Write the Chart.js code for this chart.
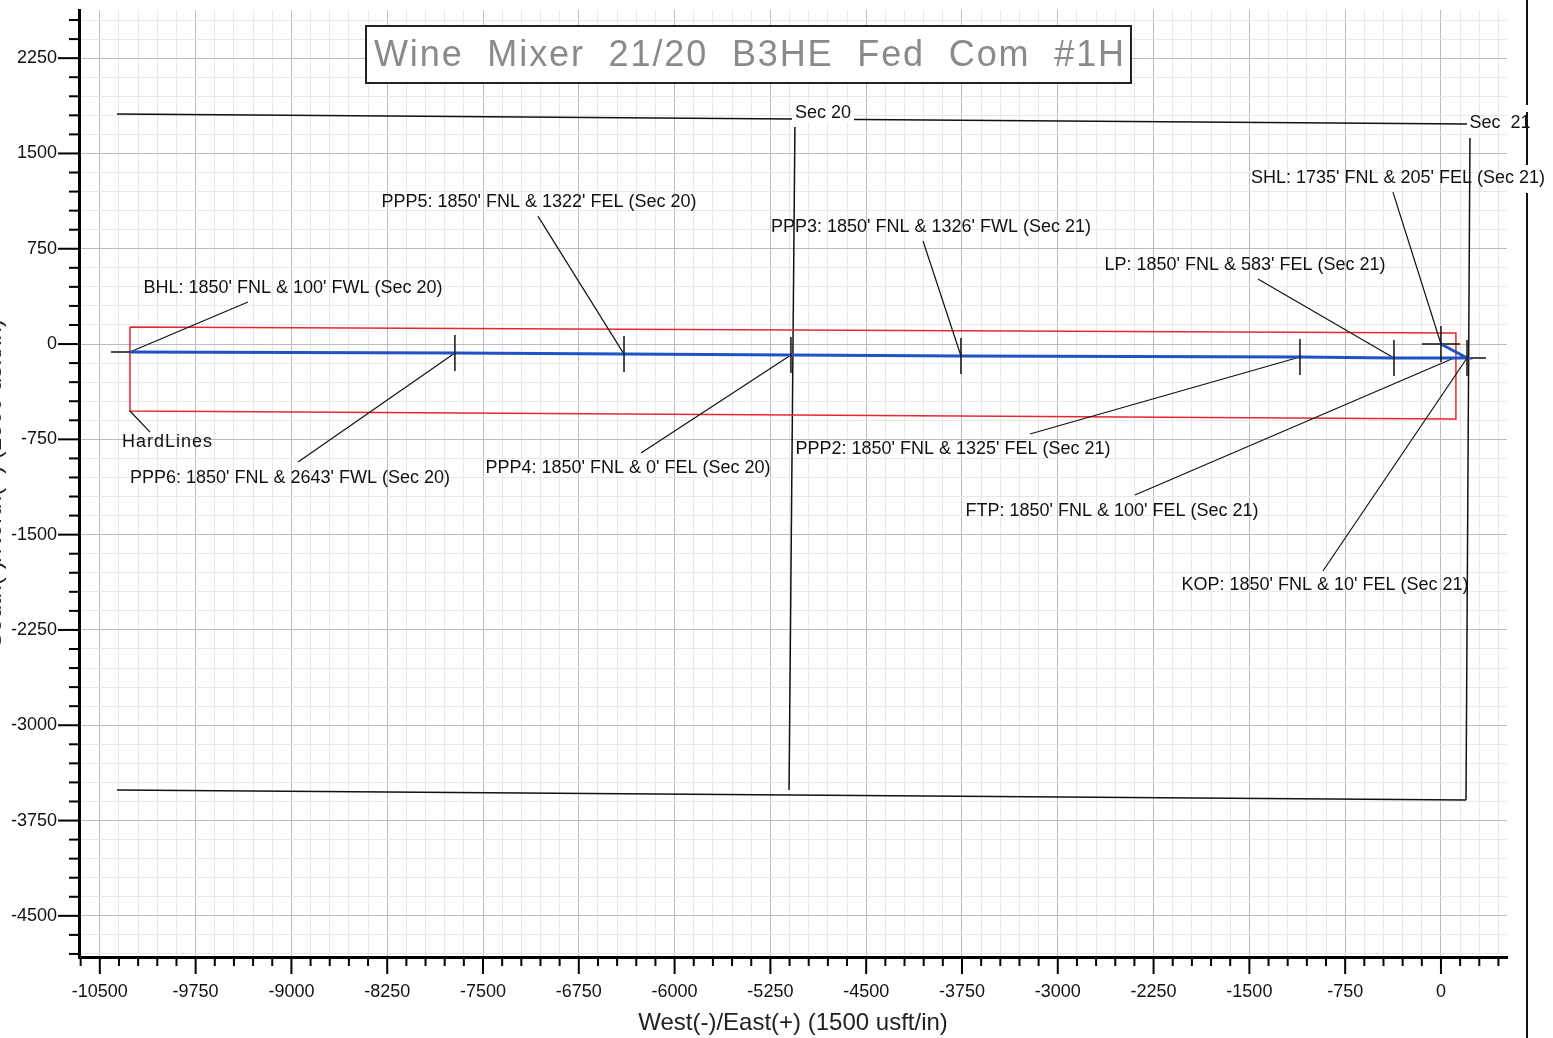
<!DOCTYPE html>
<html>
<head>
<meta charset="utf-8">
<script src="https://cdn.jsdelivr.net/npm/chart.js@4/dist/chart.umd.min.js"></script>
<style>
  body { margin: 0; background: #fff; }
  #wrap { width: 1553px; height: 1038px; }
</style>
</head>
<body>
<div id="wrap"><canvas id="planChart"></canvas></div>
<script>
/* well path, from surface to bottom hole (usft, East / North) */
const wellNames = ['SHL', 'KOP', 'FTP', 'LP', 'PPP2', 'PPP3', 'PPP4', 'PPP5', 'PPP6', 'BHL'];
const wellEast  = [0, 204, 102, -368, -1104, -3758, -5089, -6396, -7720, -10264];
const wellNorth = [0, -110, -110, -110, -102, -94, -87, -79, -71, -63];

/* hard lines box */
const hardEast  = [-10264, 117, 117, -10264, -10264];
const hardNorth = [134, 87, -590, -527, 134];

/* section lines */
const secTopEast = [-10366, 204],  secTopNorth = [1810, 1731];
const secBotEast = [-10366, 196],  secBotNorth = [-3510, -3589];
const secMidEast = [-5058, -5104], secMidNorth = [1708, -3510];
const secRgtEast = [227, 196],     secRgtNorth = [1621, -3589];
const secNames = ['Sec 20', 'Sec 21'];
const secLabelEast = [-4838, 462];
const secLabelNorth = [1818, 1739];

/* annotation labels, same order as wellNames */
const labelText = [
  "SHL: 1735' FNL & 205' FEL (Sec 21)",
  "KOP: 1850' FNL & 10' FEL (Sec 21)",
  "FTP: 1850' FNL & 100' FEL (Sec 21)",
  "LP: 1850' FNL & 583' FEL (Sec 21)",
  "PPP2: 1850' FNL & 1325' FEL (Sec 21)",
  "PPP3: 1850' FNL & 1326' FWL (Sec 21)",
  "PPP4: 1850' FNL & 0' FEL (Sec 20)",
  "PPP5: 1850' FNL & 1322' FEL (Sec 20)",
  "PPP6: 1850' FNL & 2643' FWL (Sec 20)",
  "BHL: 1850' FNL & 100' FWL (Sec 20)"
];
const labelEast   = [-337, -908, -2576, -1534, -3821, -3993, -6365, -7062, -9011, -8988];
const labelNorth  = [1306, -1897, -1314, 622, -826, 921, -976, 1118, -1055, 441];
const leaderEast  = [-376, -924, -2396, -1433, -3218, -4055, -6263, -7070, -8948, -9340];
const leaderNorth = [1196, -1786, -1188, 512, -708, 811, -858, 1007, -929, 331];
const hardLabel = 'HardLines';
const hardLabelEast = -10326, hardLabelNorth = -771;
const hardLeaderEast = -10107, hardLeaderNorth = -693;

/* markers on the path */
const vTickNames = ['SHL', 'KOP', 'LP', 'PPP2', 'PPP3', 'PPP4', 'PPP5', 'PPP6'];
const hTickNames = ['SHL', 'KOP', 'BHL'];

const title = 'Wine  Mixer  21/20  B3HE  Fed  Com  #1H';
const xTitle = 'West(-)/East(+) (1500 usft/in)';
const yTitle = 'South(-)/North(+) (1500 usft/in)';

const pts = (xs, ys) => xs.map((x, i) => ({ x: x, y: ys[i] }));
const wellPt = n => ({ x: wellEast[wellNames.indexOf(n)], y: wellNorth[wellNames.indexOf(n)] });
const family = '"Liberation Sans", Arial, sans-serif';
const font = '18px ' + family;

const line = (data, color, width, order) => ({
  data: data, showLine: true, borderColor: color, borderWidth: width,
  pointRadius: 0, fill: false, order: order
});

const datasets = [
  line(pts(wellEast, wellNorth), '#1f52c4', 3, 1),
  line(pts(hardEast, hardNorth), '#e8262f', 1.5, 5),
  line(pts(secTopEast, secTopNorth), '#111', 1.5, 5),
  line(pts(secBotEast, secBotNorth), '#111', 1.5, 5),
  line(pts(secMidEast, secMidNorth), '#111', 1.5, 5),
  line(pts(secRgtEast, secRgtNorth), '#111', 1.5, 5),
  {
    data: vTickNames.map(wellPt), showLine: false, pointStyle: 'line', rotation: 90,
    pointRadius: 18, borderColor: '#111', borderWidth: 1.5, order: 0
  },
  {
    data: hTickNames.map(wellPt), showLine: false, pointStyle: 'line', rotation: 0,
    pointRadius: 19, borderColor: '#111', borderWidth: 1.5, order: 2
  },
  line([{ x: hardEast[3], y: hardNorth[3] }, { x: hardLeaderEast, y: hardLeaderNorth }], '#111', 1.2, 3)
];
wellNames.forEach((n, i) => {
  datasets.push(line([{ x: leaderEast[i], y: leaderNorth[i] }, wellPt(n)], '#111', 1.2, 3));
});

const isMajor = v => Math.abs(v % 750) < 1e-6;

const decor = {
  id: 'decor',
  afterDraw(chart) {
    const ctx = chart.ctx, xs = chart.scales.x, ys = chart.scales.y;
    ctx.save();
    // axis tick marks
    ctx.strokeStyle = '#000';
    ctx.lineWidth = 2;
    xs.ticks.forEach(t => {
      const p = xs.getPixelForValue(t.value);
      ctx.beginPath(); ctx.moveTo(p, xs.top); ctx.lineTo(p, xs.top + (isMajor(t.value) ? 17 : 9)); ctx.stroke();
    });
    ys.ticks.forEach(t => {
      const p = ys.getPixelForValue(t.value);
      ctx.beginPath(); ctx.moveTo(ys.right, p); ctx.lineTo(ys.right - (isMajor(t.value) ? 21 : 10), p); ctx.stroke();
    });

    // annotation labels
    ctx.font = font;
    ctx.fillStyle = '#111';
    ctx.textAlign = 'center';
    ctx.textBaseline = 'middle';
    labelText.forEach((s, i) => {
      ctx.fillText(s, xs.getPixelForValue(labelEast[i]), ys.getPixelForValue(labelNorth[i]));
    });
    ctx.textAlign = 'left';
    ctx.letterSpacing = '1px';
    ctx.fillText(hardLabel, xs.getPixelForValue(hardLabelEast), ys.getPixelForValue(hardLabelNorth));
    ctx.letterSpacing = '0px';

    // section labels
    ctx.textAlign = 'center';
    secNames.forEach((s, i) => {
      const x = xs.getPixelForValue(secLabelEast[i]), y = ys.getPixelForValue(secLabelNorth[i]);
      const w = ctx.measureText(s).width;
      if (i === 0) { ctx.fillStyle = '#fff'; ctx.fillRect(x - w / 2 - 3, y - 9, w + 6, 18); }
      ctx.fillStyle = '#111';
      ctx.fillText(i === 0 ? s : s.replace(' ', '  '), x, y);
    });

    // title box
    ctx.fillStyle = '#fff';
    ctx.fillRect(366, 26, 765, 57);
    ctx.strokeStyle = '#222';
    ctx.lineWidth = 2;
    ctx.strokeRect(366, 26, 765, 57);
    ctx.font = '36px ' + family;
    ctx.fillStyle = '#8a8a8a';
    const w0 = ctx.measureText(title).width;
    ctx.letterSpacing = ((750 - w0) / (title.length - 1)).toFixed(2) + 'px';
    ctx.textAlign = 'left';
    ctx.fillText(title, 374, 56);
    ctx.letterSpacing = '0px';

    // y axis title, cut at page edge
    ctx.save();
    ctx.translate(-6, (ys.top + ys.bottom) / 2);
    ctx.rotate(-Math.PI / 2);
    ctx.font = '24px ' + family;
    ctx.fillStyle = '#222';
    ctx.textAlign = 'center';
    ctx.fillText(yTitle, 0, 0);
    ctx.restore();

    // page edge at right
    ctx.strokeStyle = '#111';
    ctx.lineWidth = 2;
    [[0, 105], [112, 165], [193, 1038]].forEach(s => {
      ctx.beginPath(); ctx.moveTo(1527, s[0]); ctx.lineTo(1527, s[1]); ctx.stroke();
    });
    ctx.restore();
  }
};

const gridColor = c => (c.tick && isMajor(c.tick.value)) ? '#bcbcbc' : '#e8e8e8';

new Chart(document.getElementById('planChart'), {
  type: 'scatter',
  data: { datasets: datasets },
  options: {
    responsive: true,
    maintainAspectRatio: false,
    animation: false,
    layout: { autoPadding: false, padding: { top: 10, right: 46, left: 0, bottom: 0 } },
    plugins: { legend: { display: false }, tooltip: { enabled: false } },
    scales: {
      x: {
        type: 'linear', min: -10663, max: 517,
        ticks: {
          stepSize: 150, includeBounds: false, autoSkip: false, maxRotation: 0, padding: 0,
          color: '#111', font: { family: family, size: 18 },
          callback: v => isMajor(v) ? String(Math.round(v)) : ''
        },
        grid: { color: gridColor, lineWidth: 1, drawTicks: true, tickLength: 24, tickColor: 'rgba(0,0,0,0)' },
        border: { color: '#000', width: 3 },
        title: {
          display: true, text: xTitle, color: '#222', padding: { top: 0, bottom: 0 },
          font: { family: family, size: 24 }
        },
        afterFit: s => { s.height = 81; s.paddingLeft = 0; s.paddingRight = 0; }
      },
      y: {
        type: 'linear', min: -4824, max: 2629,
        ticks: {
          stepSize: 150, includeBounds: false, autoSkip: false, padding: 0,
          color: '#111', font: { family: family, size: 18 },
          callback: v => isMajor(v) ? String(Math.round(v)) : ''
        },
        grid: { color: gridColor, lineWidth: 1, drawTicks: true, tickLength: 22, tickColor: 'rgba(0,0,0,0)' },
        border: { color: '#000', width: 3 },
        afterFit: s => { s.width = 79; s.paddingTop = 0; s.paddingBottom = 0; }
      }
    }
  },
  plugins: [decor]
});
</script>
</body>
</html>
